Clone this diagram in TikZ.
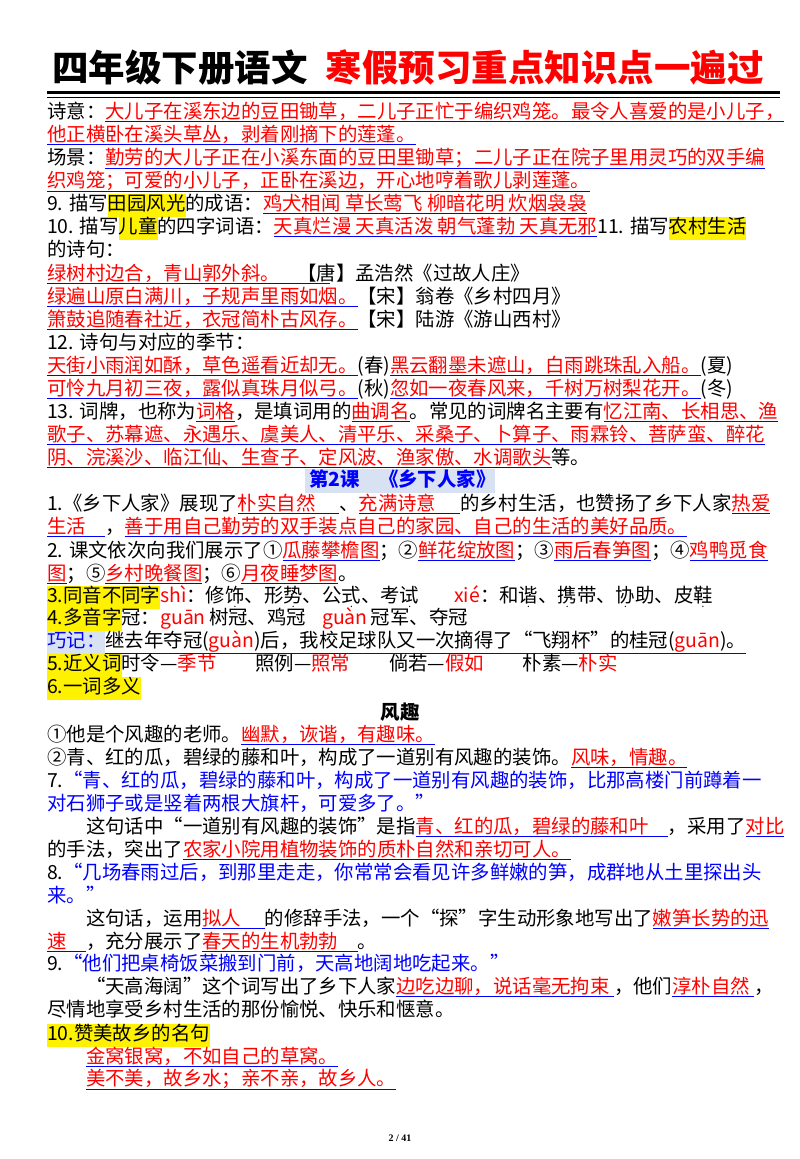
\documentclass[tikz,border=0pt]{standalone}
\usepackage{fontspec}
\setmainfont{Noto Sans CJK SC}
\newfontfamily\pgfoot{Liberation Serif}
\definecolor{lb}{HTML}{D9E2F3}
\definecolor{myred}{HTML}{FF0000}
\definecolor{myblue}{HTML}{0000FF}
\newcommand\ru[1]{\textcolor{myblue}{\underline{\textcolor{myred}{#1}}}}
\newcommand\bu[1]{\textcolor{myblue}{\underline{\textcolor{black}{#1}}}}
\newcommand\bl[1]{\textcolor{myblue}{#1}}
\newcommand\rd[1]{\textcolor{myred}{#1}}
\newcommand\hy[1]{{\setlength{\fboxsep}{0pt}\colorbox{yellow}{\strut #1}}}
\newcommand\hb[1]{{\setlength{\fboxsep}{0pt}\colorbox{lb}{\strut #1}}}
\newsavebox\emdotbox
\newcommand\emdot[1]{\sbox\emdotbox{#1}\rlap{\hbox to\wd\emdotbox{\hss\raisebox{-.3em}{\fontsize{10}{10}\selectfont .}\hss}}\usebox\emdotbox}
\begin{document}
\begin{tikzpicture}[x=1pt,y=-1pt,
  ln/.style={anchor=base west,inner sep=0pt,font=\fontsize{19.4}{23}\selectfont},
  ct/.style={anchor=base,inner sep=0pt,font=\fontsize{19.4}{23}\selectfont}]
\useasboundingbox[fill=white] (0,0) rectangle (800,1159);
\node[anchor=base west,inner sep=0pt,font=\fontsize{36.5}{40}\selectfont\bfseries] (title) at (52,81) {四年级下册语文\hspace{0.5em}\rd{寒假预习重点知识点一遍过}};
\draw[line width=3pt] (47,92) -- (780,92);
\draw[line width=0.8pt] (47,97) -- (780,97);
\node[ln] (l1) at (47,118) {诗意：\ru{大儿子在溪东边的豆田锄草，二儿子正忙于编织鸡笼。最令人喜爱的是小儿子，}};
\node[ln] (l2) at (47,141) {\ru{他正横卧在溪头草丛，剥着刚摘下的莲蓬。}};
\node[ln] (l3) at (47,164) {场景：\ru{勤劳的大儿子正在小溪东面的豆田里锄草；二儿子正在院子里用灵巧的双手编}};
\node[ln] (l4) at (47,187) {\ru{织鸡笼；可爱的小儿子，正卧在溪边，开心地哼着歌儿剥莲蓬。}};
\node[ln] (l5) at (47,210) {9. 描写\hy{田园风光}的成语：\ru{鸡犬相闻\ 草长莺飞\ 柳暗花明\ 炊烟袅袅}};
\node[ln] (l6) at (47,233) {10. 描写\hy{儿童}的四字词语：\ru{天真烂漫\ 天真活泼\ 朝气蓬勃\ 天真无邪}11. 描写\hy{农村生活}};
\node[ln] (l7) at (47,256) {的诗句：};
\node[ln] (l8) at (47,280) {\ru{绿树村边合，青山郭外斜。\hspace{2.6em}}};
\node[ln] (l8b) at (297,280) {【唐】孟浩然《过故人庄》};
\node[ln] (l9) at (47,303) {\ru{绿遍山原白满川，子规声里雨如烟。}【宋】翁卷《乡村四月》};
\node[ln] (l10) at (47,326) {\ru{箫鼓追随春社近，衣冠简朴古风存。}【宋】陆游《游山西村》};
\node[ln] (l11) at (47,349) {12. 诗句与对应的季节：};
\node[ln] (l12) at (47,372) {\ru{天街小雨润如酥，草色遥看近却无。}(春)\ru{黑云翻墨未遮山，白雨跳珠乱入船。}(夏)};
\node[ln] (l13) at (47,395) {\ru{可怜九月初三夜，露似真珠月似弓。}(秋)\ru{忽如一夜春风来，千树万树梨花开。}(冬)};
\node[ln] (l14) at (47,418) {13. 词牌，也称为\ru{词格}，是填词用的\ru{曲调名}。常见的词牌名主要有\ru{忆江南、长相思、渔}};
\node[ln] (l15) at (47,441) {\ru{歌子、苏幕遮、永遇乐、虞美人、清平乐、采桑子、卜算子、雨霖铃、菩萨蛮、醉花}};
\node[ln] (l16) at (47,464) {\ru{阴、浣溪沙、临江仙、生查子、定风波、渔家傲、水调歌头}等。};
\node[ct] (lesson) at (400,486) {\hb{\bl{\bfseries\ 第2课\quad《乡下人家》}}};
\node[ln] (l18) at (47,510) {1.《乡下人家》展现了\ru{朴实自然\quad\ }、\ru{充满诗意\quad\ }的乡村生活，也赞扬了乡下人家\ru{热爱}};
\node[ln] (l19) at (47,533) {\ru{生活\quad}，\ru{善于用自己勤劳的双手装点自己的家园、自己的生活的美好品质。}};
\node[ln] (l20) at (47,557) {2. 课文依次向我们展示了①\ru{瓜藤攀檐图}；②\ru{鲜花绽放图}；③\ru{雨后春笋图}；④\ru{鸡鸭觅食}};
\node[ln] (l21) at (47,580) {\ru{图}；⑤\ru{乡村晚餐图}；⑥\ru{月夜睡梦图}。};
\node[ln] (l22) at (47,602) {\hy{3.同音不同字}\rd{shì}：修\emdot{饰}、形\emdot{势}、公\emdot{式}、考\emdot{试}\hspace{1.8em}\rd{xié}：和\emdot{谐}、\emdot{携}带、\emdot{协}助、皮\emdot{鞋}};
\node[ln] (l23) at (47,624) {\hy{4.多音字}冠：\rd{guān}\,树冠、鸡冠};
\node[ln] (l23b) at (322,624) {\rd{guàn}\,冠军、夺冠};
\node[ln] (l24) at (47,647) {\hb{\bl{巧记：}}\bu{继去年夺冠(\rd{guàn})后，我校足球队又一次摘得了“飞翔杯”的桂冠(\rd{guān})。}};
\node[ln] (l25) at (47,670) {\hy{5.近义词}时令—\rd{季节}\hspace{2em}照例—\rd{照常}\hspace{2em}倘若—\rd{假如}\hspace{2em}朴素—\rd{朴实}};
\node[ln] (l26) at (47,693) {\hy{6.一词多义}};
\node[ct,font=\fontsize{19.4}{23}\selectfont\bfseries] (fq) at (400,719) {风趣};
\node[ln] (l28) at (47,741) {①他是个风趣的老师。\ru{幽默，诙谐，有趣味。}};
\node[ln] (l29) at (47,764) {②青、红的瓜，碧绿的藤和叶，构成了一道别有风趣的装饰。\ru{风味，情趣。}};
\node[ln] (l30) at (47,787) {7.\bl{“青、红的瓜，碧绿的藤和叶，构成了一道别有风趣的装饰，比那高楼门前蹲着一}};
\node[ln] (l31) at (47,810) {\bl{对石狮子或是竖着两根大旗杆，可爱多了。”}};
\node[ln] (l32) at (47,833) {\hspace{2em}这句话中“一道别有风趣的装饰”是指\ru{青、红的瓜，碧绿的藤和叶\quad}，采用了\ru{对比}};
\node[ln] (l33) at (47,856) {的手法，突出了\ru{农家小院用植物装饰的质朴自然和亲切可人。}};
\node[ln] (l34) at (47,879) {8.\bl{“几场春雨过后，到那里走走，你常常会看见许多鲜嫩的笋，成群地从土里探出头}};
\node[ln] (l35) at (47,902) {\bl{来。”}};
\node[ln] (l36) at (47,925) {\hspace{2em}这句话，运用\ru{拟人\quad\ }的修辞手法，一个“探”字生动形象地写出了\ru{嫩笋长势的迅}};
\node[ln] (l37) at (47,948) {\ru{速\quad}，充分展示了\ru{春天的生机勃勃\quad}。};
\node[ln] (l38) at (47,970) {9.\bl{“他们把桌椅饭菜搬到门前，天高地阔地吃起来。”}};
\node[ln] (l39) at (47,993) {\hspace{2em}“天高海阔”这个词写出了乡下人家\ru{边吃边聊，说话毫无拘束\ }，他们\ru{淳朴自然\ }，};
\node[ln] (l40) at (47,1016) {尽情地享受乡村生活的那份愉悦、快乐和惬意。};
\node[ln] (l41) at (47,1040) {\hy{10.赞美故乡的名句}};
\node[ln] (l42) at (47,1063) {\hspace{2em}\ru{金窝银窝，不如自己的草窝。}};
\node[ln] (l43) at (47,1085) {\hspace{2em}\ru{美不美，故乡水；亲不亲，故乡人。}};
\node[anchor=base,inner sep=0pt,font=\pgfoot\fontsize{10}{12}\selectfont\bfseries] (pg) at (400,1141) {2 / 41};
\end{tikzpicture}
\end{document}
